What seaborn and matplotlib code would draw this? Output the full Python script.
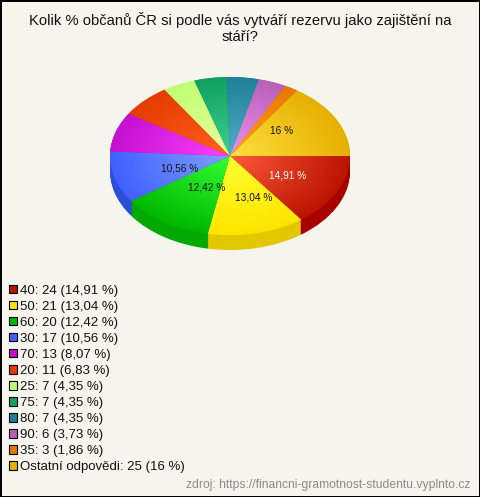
#!/usr/bin/env python

# Kolik % obcanu CR - 3D looking pie chart with legend

import numpy as np
import matplotlib
matplotlib.use("Agg")
import matplotlib.pyplot as plt
from matplotlib.colors import to_rgb
from matplotlib.patches import Patch
import seaborn as sns

#%%

# INPUT DATA

title = "Kolik % občanů ČR si podle vás vytváří rezervu jako zajištění na\nstáří?"
source = "zdroj: https://financni-gramotnost-studentu.vyplnto.cz"

categories = ["40", "50", "60", "30", "70", "20", "25", "75", "80", "90", "35", "Ostatní odpovědi"]
counts = [24, 21, 20, 17, 13, 11, 7, 7, 7, 6, 3, 25]
percents = ["14,91", "13,04", "12,42", "10,56", "8,07", "6,83", "4,35", "4,35", "4,35", "3,73", "1,86", "16"]

# slices that carry a label on the pie
labelled = ["40", "50", "60", "30", "Ostatní odpovědi"]

inner_colors = ["#ff5a3c", "#ffff30", "#33ff33", "#80a0ff", "#ff40ff", "#ff6020",
                "#e8ffa0", "#40d090", "#50b0c8", "#f090f0", "#ffa020", "#ffe040"]
outer_colors = ["#b81400", "#ffe400", "#00b800", "#4060ff", "#c410d0", "#e63c00",
                "#c0ff70", "#10a060", "#208098", "#b860b8", "#e87800", "#e6b000"]
side_colors = ["#a80000", "#e3c800", "#00a800", "#2a50d8", "#a000a8", "#c03000",
               "#a0d860", "#088048", "#186878", "#984898", "#c06000", "#c09000"]

#%%

sns.set_theme(style="white")
plt.rcParams['font.family'] = ['Liberation Sans', 'DejaVu Sans']

bg = "#f5f5ed"
W, H = 480, 497
cx, cy, rx, ry, depth = 230, 156, 120, 79, 15

fig = plt.figure(figsize=(W / 100, H / 100), dpi=100, facecolor=bg)
fig.patch.set_edgecolor("black")
fig.patch.set_linewidth(2)

ax = fig.add_axes([(cx - rx) / W, 1 - (cy + ry) / H, 2 * rx / W, 2 * ry / H])
ax.axis("off")

# side of the pie: the same pie drawn again, one pixel lower each time
for k in range(depth, 0, -1):
    ax.pie(counts, colors=side_colors, startangle=0, counterclock=False,
           center=(0, -k / ry), wedgeprops={"linewidth": 0, "zorder": 1})

# top of the pie
wedges, _ = ax.pie(counts, colors=outer_colors, startangle=0, counterclock=False,
                   wedgeprops={"linewidth": 0, "zorder": 2})

# radial shading, clipped to each wedge
gx, gy = np.meshgrid(np.linspace(-1, 1, 480), np.linspace(-1, 1, 320))
rr = np.clip(np.hypot(gx, gy), 0, 1)[..., None]
for w, c0, c1 in zip(wedges, inner_colors, outer_colors):
    shade = np.array(to_rgb(c0)) * (1 - rr) + np.array(to_rgb(c1)) * rr
    im = ax.imshow(shade, extent=(-1, 1, -1, 1), origin="lower", aspect="auto",
                   zorder=3, interpolation="bilinear")
    im.set_clip_path(w)

ax.set_xlim(-1, 1)
ax.set_ylim(-1, 1)
ax.set_aspect("auto")

# labels on the pie
nudge = {"40": (0, 0), "50": (9, 0), "60": (12, 4), "30": (12, -1), "Ostatní odpovědi": (-6, 5)}
angles = 360 * np.cumsum([0] + counts) / sum(counts)
for i, cat in enumerate(categories):
    if cat not in labelled:
        continue
    mid = np.radians(-(angles[i] + angles[i + 1]) / 2)
    ax.annotate(percents[i] + " %", (0.54 * np.cos(mid), 0.54 * np.sin(mid)),
                xytext=nudge[cat], textcoords="offset pixels", ha="center", va="center",
                fontsize=7.3, color="white" if cat == "40" else "#111111", zorder=5)

# legend
handles = [Patch(facecolor=c, edgecolor="black", linewidth=0.8) for c in outer_colors]
texts = [f"{c}: {n} ({p} %)" for c, n, p in zip(categories, counts, percents)]
fig.legend(handles, texts, loc="lower left", bbox_to_anchor=(9 / W, 1 - 473 / H),
           frameon=False, fontsize=9.55, ncol=1, borderpad=0, borderaxespad=0,
           handlelength=0.6, handleheight=0.6, handletextpad=0.22, labelspacing=0.302,
           labelcolor="#111111")

fig.text(240 / W, 1 - 28 / H, title, ha="center", va="center",
         fontsize=10.6, color="#111111", linespacing=1.15)
fig.text(470 / W, 1 - 485 / H, source, ha="right", va="center", fontsize=8.7, color="#8a8a8a")

plt.savefig("out.png", dpi=100, facecolor=bg, edgecolor="black")
